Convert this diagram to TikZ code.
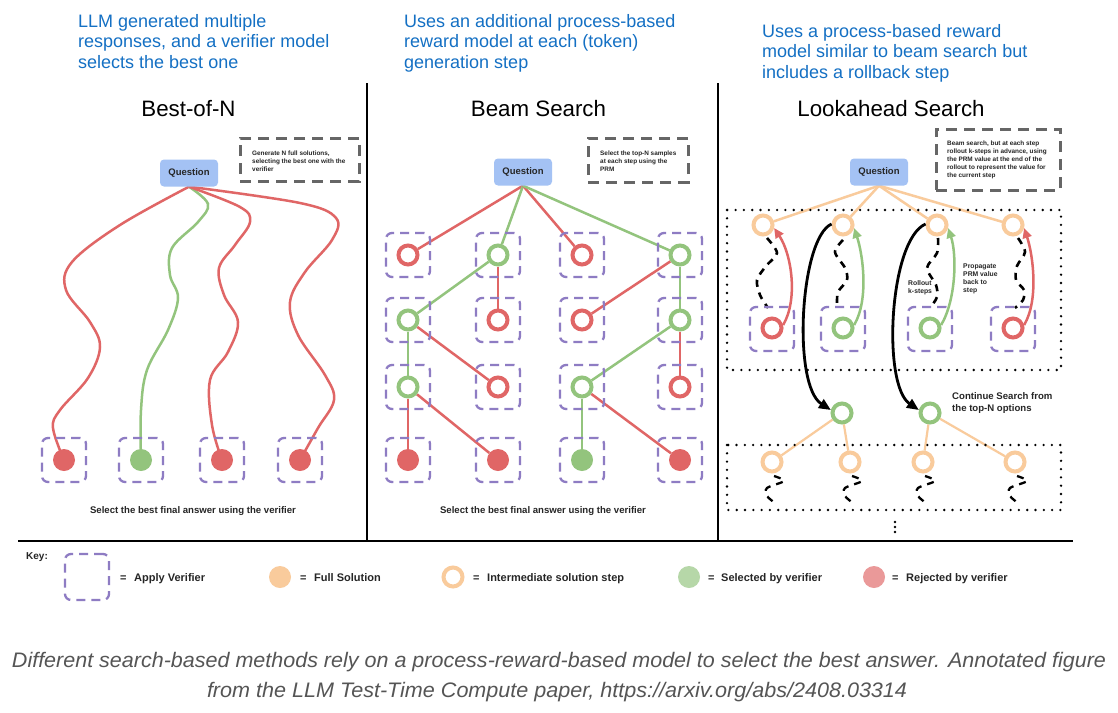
\documentclass[tikz,border=0pt]{standalone}
\usepackage{fontspec}
\usepackage{graphicx}
\setmainfont{Liberation Sans}
\usetikzlibrary{arrows.meta,backgrounds}
\definecolor{hdrblue}{RGB}{20,112,196}
\definecolor{cred}{HTML}{E06666}
\definecolor{cgreen}{HTML}{93C47D}
\definecolor{corange}{HTML}{F9CB9C}
\definecolor{cpurple}{HTML}{8E7CC3}
\definecolor{qblue}{HTML}{A4C2F4}
\definecolor{notegray}{HTML}{666666}
\definecolor{kgreen}{HTML}{B6D7A8}
\definecolor{kred}{HTML}{EA9999}
\definecolor{capgray}{HTML}{555555}
\begin{document}
\begin{tikzpicture}[x=1pt,y=1pt,
  hdr/.style={anchor=north west, align=left, inner sep=0, text=hdrblue, font=\fontsize{18}{20.5}\selectfont},
  ttl/.style={inner sep=0, font=\fontsize{22.3}{26}\selectfont},
  qbox/.style={fill=qblue, rounded corners=4pt, minimum width=58pt, minimum height=27pt, inner sep=0, text=black!85, font=\fontsize{9.5}{11}\selectfont\bfseries},
  notebox/.style={draw=notegray, line width=3pt, dash pattern=on 11pt off 7pt, inner sep=0},
  notetxt/.style={anchor=north west, align=left, inner sep=0, text=black!85, font=\fontsize{6.4}{8}\selectfont\bfseries},
  smalltxt/.style={anchor=north west, align=left, inner sep=0, text=black!85, font=\fontsize{6.8}{8}\selectfont\bfseries},
  seltxt/.style={anchor=base, inner sep=0, text=black!85, font=\fontsize{9.6}{11}\selectfont\bfseries},
  keytxt/.style={anchor=base west, inner sep=0, text=black!85, font=\fontsize{11}{13}\selectfont\bfseries},
  verif/.style={draw=cpurple, line width=2.3pt, dash pattern=on 9pt off 6pt, rounded corners=6pt, minimum width=44pt, minimum height=44pt, inner sep=0},
  ringnode/.style={circle, draw=#1, line width=4pt, fill=white, minimum size=19pt, inner sep=0},
  discnode/.style={circle, fill=#1, minimum size=22pt, inner sep=0},
  link/.style={draw=#1, line width=2.5pt},
  thinlink/.style={draw=#1, line width=2.2pt},
  carrow/.style={draw=#1, line width=2.5pt, -{Triangle[length=10pt,width=9pt]}},
  barrow/.style={draw=black, line width=2.8pt, -{Triangle[length=12pt,width=10pt]}},
  wiggle/.style={draw=black, line width=2.6pt, dash pattern=on 7pt off 6pt},
  dotrect/.style={draw=black, line width=2.6pt, dash pattern=on 0pt off 8.3pt, line cap=round},
  divider/.style={draw=black, line width=2.5pt},
  capt/.style={inner sep=0, anchor=base, text=capgray, font=\fontsize{21}{24}\selectfont\itshape}
]
\useasboundingbox (0,0) rectangle (1118,-712);

% ---------- headers ----------
\node[hdr] (h1) at (78,-14) {LLM generated multiple\\responses, and a verifier model\\selects the best one};
\node[hdr] (h2) at (404,-14) {Uses an additional process-based\\reward model at each (token)\\generation step};
\node[hdr] (h3) at (762,-24) {Uses a process-based reward\\model similar to beam search but\\includes a rollback step};

% ---------- titles ----------
\node[ttl] (t1) at (188.5,-108.5) {Best-of-N};
\node[ttl] (t2) at (538.5,-108.5) {Beam Search};
\node[ttl] (t3) at (891,-108.5) {Lookahead Search};

% ---------- dividers ----------
\draw[divider] (367,-83) -- (367,-541);
\draw[divider] (718,-83) -- (718,-541);
\draw[divider] (18,-541) -- (1073,-541);

% ================= Best-of-N =================
\node[qbox] (q1) at (189,-173) {Question};
\node[notebox, minimum width=119pt, minimum height=43pt] (nb1) at (299.5,-159.5) {};
\node[notetxt] (nt1) at (252,-150.5) {Generate N full solutions,\\selecting the best one with the\\verifier};
\node[verif] (bv1) at (64,-460) {};
\node[verif] (bv2) at (141,-460) {};
\node[verif] (bv3) at (222,-460) {};
\node[verif] (bv4) at (300,-460) {};
\node[discnode=cred] (bn1) at (64,-460) {};
\node[discnode=cgreen] (bn2) at (141,-460) {};
\node[discnode=cred] (bn3) at (222,-460) {};
\node[discnode=cred] (bn4) at (300,-460) {};
\node[seltxt] (s1) at (193,-513.5) {Select the best final answer using the verifier};

% ================= Beam Search =================
\node[qbox] (q2) at (523,-172) {Question};
\node[notebox, minimum width=100pt, minimum height=44pt] (nb2) at (638,-160) {};
\node[notetxt] (nt2) at (600,-150.5) {Select the top-N samples\\at each step using the\\PRM};
\foreach \c/\x in {1/408,2/498,3/582,4/680}{
  \foreach \r/\y in {1/255,2/320,3/387,4/460}{
    \node[verif] (bmv\r\c) at (\x,-\y) {};
  }
}
\node[ringnode=cred]   (m11) at (408,-255) {};
\node[ringnode=cgreen] (m12) at (498,-255) {};
\node[ringnode=cred]   (m13) at (582,-255) {};
\node[ringnode=cgreen] (m14) at (680,-255) {};
\node[ringnode=cgreen] (m21) at (408,-320) {};
\node[ringnode=cred]   (m22) at (498,-320) {};
\node[ringnode=cred]   (m23) at (582,-320) {};
\node[ringnode=cgreen] (m24) at (680,-320) {};
\node[ringnode=cgreen] (m31) at (408,-387) {};
\node[ringnode=cred]   (m32) at (498,-387) {};
\node[ringnode=cgreen] (m33) at (582,-387) {};
\node[ringnode=cred]   (m34) at (680,-387) {};
\node[discnode=cred]   (m41) at (408,-460) {};
\node[discnode=cred]   (m42) at (498,-460) {};
\node[discnode=cgreen] (m43) at (582,-460) {};
\node[discnode=cred]   (m44) at (680,-460) {};
\node[seltxt] (s2) at (543,-513.5) {Select the best final answer using the verifier};

% ================= Lookahead =================
\node[qbox] (q3) at (879,-172) {Question};
\node[notebox, minimum width=124pt, minimum height=61pt] (nb3) at (998,-159.5) {};
\node[notetxt] (nt3) at (947,-141) {Beam search, but at each step\\rollout k-steps in advance, using\\the PRM value at the end of the\\rollout to represent the value for\\the current step};
\draw[dotrect] (727,-210) rectangle (1061,-370);
\draw[dotrect] (727,-445) rectangle (1061,-510);
\node[ringnode=corange] (lt1) at (763,-225) {};
\node[ringnode=corange] (lt2) at (843,-225) {};
\node[ringnode=corange] (lt3) at (937,-225) {};
\node[ringnode=corange] (lt4) at (1013,-225) {};
\node[verif] (lv1) at (772,-329) {};
\node[verif] (lv2) at (843,-329) {};
\node[verif] (lv3) at (930,-329) {};
\node[verif] (lv4) at (1013,-329) {};
\node[ringnode=cred]   (lb1) at (772,-328) {};
\node[ringnode=cgreen] (lb2) at (843,-328) {};
\node[ringnode=cgreen] (lb3) at (930,-328) {};
\node[ringnode=cred]   (lb4) at (1013,-328) {};
\node[ringnode=cgreen] (cn1) at (842,-413) {};
\node[ringnode=cgreen] (cn2) at (930,-413) {};
\node[ringnode=corange] (ll1) at (772,-462) {};
\node[ringnode=corange] (ll2) at (850,-462) {};
\node[ringnode=corange] (ll3) at (923,-462) {};
\node[ringnode=corange] (ll4) at (1015,-462) {};
\node[smalltxt] (rl) at (908,-280.5) {Rollout\\k-steps};
\node[smalltxt] (pp) at (963,-263.5) {Propagate\\PRM value\\back to\\step};
\node[anchor=north west, align=left, inner sep=0, text=black!85, font=\fontsize{9.6}{11.7}\selectfont\bfseries] (cs) at (952,-392.5) {Continue Search from\\the top-N options};
\fill (895,-522) circle (1.4);
\fill (895,-527) circle (1.4);
\fill (895,-532) circle (1.4);

% colored propagate arrows
\draw[carrow=cred]   (lb1.15) .. controls (798,-300) and (792,-255) .. (lt1.-15);
\draw[carrow=cgreen] (lb2.15) .. controls (869,-300) and (863,-255) .. (lt2.-15);
\draw[carrow=cgreen] (lb3.15) .. controls (956,-300) and (957,-255) .. (lt3.-15);
\draw[carrow=cred]   (lb4.15) .. controls (1039,-300) and (1033,-255) .. (lt4.-15);
% black continue arrows
\draw[barrow] (lt2.175) .. controls (800,-238) and (792,-385) .. (cn1.165);
\draw[barrow] (lt3.175) .. controls (889,-240) and (882,-385) .. (cn2.165);

% ---------- key ----------
\node[keytxt, font=\fontsize{10}{12}\selectfont\bfseries] (key) at (26,-559.5) {Key:};
\node[verif, minimum height=46pt] (kv) at (87,-577) {};
\node[keytxt] (ke1) at (120,-581) {=};
\node[keytxt] (kt1) at (134,-581) {Apply Verifier};
\node[discnode=corange] (kfull) at (280,-577) {};
\node[keytxt] (ke2) at (300,-581) {=};
\node[keytxt] (kt2) at (314,-581) {Full Solution};
\node[ringnode=corange] (kint) at (453,-577) {};
\node[keytxt] (ke3) at (473,-581) {=};
\node[keytxt] (kt3) at (487,-581) {Intermediate solution step};
\node[discnode=kgreen] (ksel) at (689,-577) {};
\node[keytxt] (ke4) at (708,-581) {=};
\node[keytxt] (kt4) at (721,-581) {Selected by verifier};
\node[discnode=kred] (krej) at (874,-577) {};
\node[keytxt] (ke5) at (892,-581) {=};
\node[keytxt] (kt5) at (906,-581) {Rejected by verifier};

% ---------- caption ----------
\node[capt] (c1) at (559,-667) {\resizebox{1094pt}{\height}{Different search-based methods rely on a process-reward-based model to select the best answer. Annotated figure}};
\node[capt] (c2) at (557,-697) {\resizebox{700pt}{\height}{from the LLM Test-Time Compute paper, https://arxiv.org/abs/2408.03314}};

% ================= edges on background =================
\begin{pgfonlayer}{background}
\fill[white] (0,0) rectangle (1118,-712);
% Best-of-N curves
\draw[link=cred] plot[smooth, tension=0.6] coordinates {(q1.south) (120,-225) (72,-262) (66,-290) (90,-322) (100,-347) (88,-378) (60,-410) (53,-428) (bn1)};
\draw[link=cgreen] plot[smooth, tension=0.6] coordinates {(q1.south) (208,-204) (198,-222) (172,-248) (170,-275) (178,-298) (168,-330) (147,-370) (141,-410) (bn2)};
\draw[link=cred] plot[smooth, tension=0.6] coordinates {(q1.south) (240,-207) (250,-222) (235,-245) (219,-268) (224,-295) (238,-322) (228,-352) (210,-380) (212,-425) (bn3)};
\draw[link=cred] plot[smooth, tension=0.6] coordinates {(q1.south) (300,-203) (336,-218) (332,-240) (305,-272) (290,-302) (298,-335) (325,-375) (334,-400) (318,-428) (bn4)};
% Beam search edges
\draw[link=cred]   (q2.south) -- (m11);
\draw[link=cgreen] (q2.south) -- (m12);
\draw[link=cred]   (q2.south) -- (m13);
\draw[link=cgreen] (q2.south) -- (m14);
\draw[link=cgreen] (m12) -- (m21);
\draw[link=cred]   (m12) -- (m22);
\draw[link=cred]   (m14) -- (m23);
\draw[link=cgreen] (m14) -- (m24);
\draw[link=cgreen] (m21) -- (m31);
\draw[link=cred]   (m21) -- (m32);
\draw[link=cgreen] (m24) -- (m33);
\draw[link=cred]   (m24) -- (m34);
\draw[link=cred]   (m31) -- (m41);
\draw[link=cred]   (m31) -- (m42);
\draw[link=cgreen] (m33) -- (m43);
\draw[link=cred]   (m33) -- (m44);
% Lookahead edges
\draw[link=corange] (q3.south) -- (lt1);
\draw[link=corange] (q3.south) -- (lt2);
\draw[link=corange] (q3.south) -- (lt3);
\draw[link=corange] (q3.south) -- (lt4);
\draw[thinlink=corange] (cn1) -- (ll1);
\draw[thinlink=corange] (cn1) -- (ll2);
\draw[thinlink=corange] (cn2) -- (ll3);
\draw[thinlink=corange] (cn2) -- (ll4);
% rollout wiggles
\draw[wiggle] plot[smooth] coordinates {(767,-238) (777,-253) (766,-266) (757,-280) (760,-295) (768,-308)};
\draw[wiggle] plot[smooth] coordinates {(843,-240) (835,-252) (845,-268) (847,-280) (838,-292) (837,-305)};
\draw[wiggle] plot[smooth] coordinates {(938,-238) (937,-253) (927,-268) (936,-285) (937,-297) (930,-308)};
\draw[wiggle] plot[smooth] coordinates {(1018,-238) (1025,-252) (1017,-266) (1016,-280) (1024,-290) (1023,-300) (1015,-308)};
\foreach \cx in {772,850,923,1015}{
  \draw[wiggle, line width=2.3pt, dash pattern=on 7pt off 6pt] plot[smooth] coordinates {(\cx+2,-476) (\cx+12,-481) (\cx-5,-488) (\cx-5,-496) (\cx+3,-503)};
}
\end{pgfonlayer}
\end{tikzpicture}
\end{document}
